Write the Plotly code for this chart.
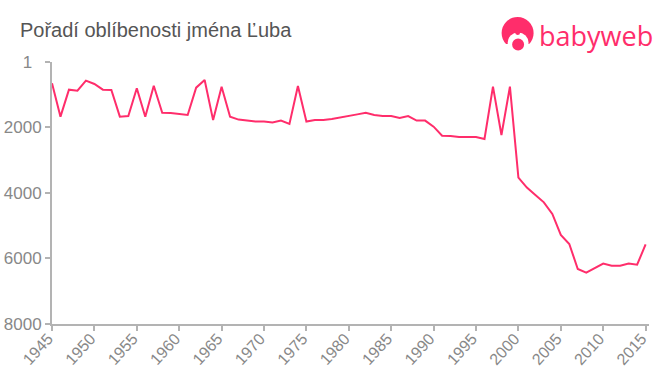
import plotly.graph_objects as go

years = list(range(1945, 2016))
ranks = [650, 1670, 845, 875, 570, 672, 845, 855, 1670, 1650,
         805, 1670, 725, 1550, 1560, 1590, 1620, 785, 550, 1775,
         755, 1670, 1760, 1790, 1820, 1820, 1850, 1790, 1890, 735,
         1820, 1770, 1770, 1740, 1700, 1640, 1600, 1550, 1620, 1650,
         1650, 1710, 1650, 1790, 1790, 1975, 2250, 2260, 2290, 2290,
         2290, 2350, 755, 2230, 755, 3530, 3835, 4060, 4285, 4640,
         5282, 5557, 6320, 6430, 6300, 6155, 6220, 6220, 6155, 6190, 5570]
y_ticks = [1, 2000, 4000, 6000, 8000]
y_labels = ["1\u00a0\u00a0", "2000", "4000", "6000", "8000"]
x_ticks = list(range(1945, 2016, 5))
title = "Pořadí oblíbenosti jména Ľuba"
brand = "babyweb"

W, H = 660, 375
LEFT, RIGHT, TOP, BOTTOM = 52, 649.5, 62, 324
PINK = "#ff2d6b"
AXIS = "#b3b3b3"
TICK_TXT = "#888888"


def px(x):
    return (x - LEFT) / (RIGHT - LEFT)


def py(y):
    return (BOTTOM - y) / (BOTTOM - TOP)


def circle(cx, cy, r, color):
    return dict(type="circle", xref="paper", yref="paper",
                x0=px(cx - r), x1=px(cx + r), y0=py(cy + r), y1=py(cy - r),
                fillcolor=color, line=dict(width=0), layer="above")


def rect(x0, y0, x1, y1, color):
    return dict(type="rect", xref="paper", yref="paper",
                x0=px(x0), x1=px(x1), y0=py(y1), y1=py(y0),
                fillcolor=color, line=dict(width=0), layer="above")


fig = go.Figure(go.Scatter(x=years, y=ranks, mode="lines",
                           line=dict(color=PINK, width=2), hoverinfo="skip"))

axis_style = dict(tickmode="array", showgrid=False, zeroline=False,
                  showline=True, linecolor=AXIS, linewidth=2,
                  ticks="outside", ticklen=5, tickcolor=AXIS, tickwidth=2,
                  automargin=False)

fig.update_layout(
    width=W, height=H, autosize=False, showlegend=False,
    paper_bgcolor="white", plot_bgcolor="white",
    margin=dict(l=LEFT, r=W - RIGHT, t=TOP, b=H - BOTTOM, pad=0),
    font=dict(family="Liberation Sans, Arial, sans-serif", color=TICK_TXT, size=17),
    xaxis=dict(range=[1945, 2015.4], tickvals=x_ticks,
               ticktext=[str(v) for v in x_ticks], tickangle=-48,
               ticklabelstandoff=-8, ticklabelshift=-4,
               tickfont=dict(size=16, color=TICK_TXT), **axis_style),
    yaxis=dict(range=[8000, 1], tickvals=y_ticks, ticktext=y_labels,
               tickfont=dict(size=17, color=TICK_TXT), **axis_style),
    annotations=[
        dict(text=title, xref="paper", yref="paper", x=px(18), y=py(30),
             xanchor="left", yanchor="middle", showarrow=False,
             font=dict(size=20, color="#555555")),
        dict(text=brand, xref="paper", yref="paper", x=px(537), y=py(35),
             xanchor="left", yanchor="middle", showarrow=False,
             font=dict(size=27, color=PINK, family="Open Sans, sans-serif")),
    ],
    shapes=[
        circle(518, 33, 16, PINK),
        rect(500, 44, 536, 51, "white"),
        circle(518.5, 43, 10.5, "white"),
        circle(518, 32.5, 2.5, PINK),
        circle(518.5, 44.5, 6, PINK),
    ],
)

fig.write_html("out.html", config={"displayModeBar": False},
               post_script="document.body.style.margin='0';")
